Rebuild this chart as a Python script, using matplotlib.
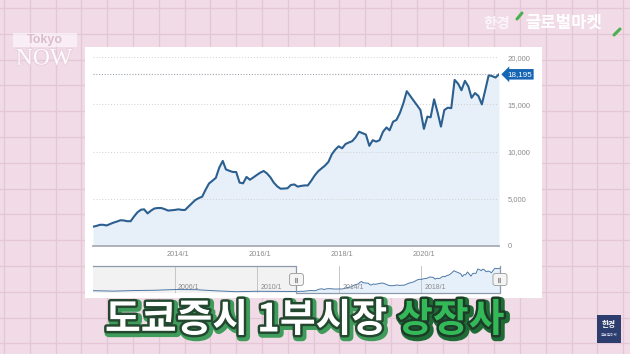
import numpy as np
import pandas as pd
import matplotlib
matplotlib.use("Agg")
import matplotlib.pyplot as plt
import matplotlib.dates as mdates
import matplotlib.patheffects as pe
import matplotlib.transforms as mtransforms
from matplotlib.patches import Rectangle
from matplotlib.ticker import FuncFormatter

plt.rcParams['font.family'] = ['Liberation Sans', 'DejaVu Sans']
KR = ['Noto Sans CJK KR', 'DejaVu Sans']

# monthly values, Dec 2011 .. Nov 2021
start_month = "2011-12-01"
values = [2020, 2100, 2220, 2220, 2150, 2300, 2450, 2560, 2700, 2680, 2600, 2600,
          3100, 3550, 3820, 3860, 3430, 3720, 3950, 4000, 4000, 3880, 3730, 3760,
          3800, 3860, 3800, 3790, 4150, 4500, 4850, 5050, 5200, 5950, 6600, 6900,
          7200, 8300, 9000, 8100, 7950, 7830, 7820, 6700, 6620, 7300, 7000, 7250,
          7500, 7750, 7930, 7680, 7260, 6700, 6300, 6050, 6070, 6100, 6450, 6500,
          6270, 6350, 6400, 6400, 6900, 7450, 7900, 8200, 8500, 8900, 9700, 10200,
          10550, 10340, 10800, 10950, 11100, 11500, 12100, 11950, 11800, 10600, 11200, 11050,
          11200, 12100, 12550, 12250, 13170, 13350, 14100, 15100, 16400, 15900, 15400, 14900,
          14400, 12400, 13700, 13630, 15540, 14200, 12640, 14400, 14650, 14600, 17600, 17200,
          16500, 17500, 16900, 15700, 16200, 15900, 15000, 16500, 18100, 18000, 17850, 18195]

# earlier history shown only in the navigator
nav_start = "2002-01-01"
hist_dates = ["2002-01-01", "2003-01-01", "2004-01-01", "2005-01-01", "2006-01-01",
              "2007-01-01", "2008-01-01", "2009-01-01", "2010-01-01", "2011-01-01"]
hist_values = [2600, 2300, 2700, 2900, 3400, 3300, 2500, 1900, 2200, 2100]

y_ticks = [0, 5000, 10000, 15000, 20000]
x_ticks = ["2014-01-01", "2016-01-01", "2018-01-01", "2020-01-01"]
nav_ticks = ["2006-01-01", "2010-01-01", "2014-01-01", "2018-01-01"]

title_main = "도쿄증시 1부시장"
title_hl = "상장사"

W, H = 630, 354
PINK = '#f0dbe6'
PINK_GRID = '#e4c6d6'


def px_rect(x0, y0, x1, y1):
    return [x0 / W, 1 - y1 / H, (x1 - x0) / W, (y1 - y0) / H]


fig = plt.figure(figsize=(6.3, 3.54), dpi=100)

# background: pink grid paper + white card
bg = fig.add_axes([0, 0, 1, 1])
bg.set_xlim(0, W)
bg.set_ylim(H, 0)
bg.axis('off')
bg.add_patch(Rectangle((0, 0), W, H, fc=PINK, ec='none', zorder=0))
for gx in np.arange(4, W, 25.8):
    bg.axvline(gx, color=PINK_GRID, lw=0.9, zorder=0.5)
for gy in np.arange(8, H, 25.8):
    bg.axhline(gy, color=PINK_GRID, lw=0.9, zorder=0.5)
bg.add_patch(Rectangle((85, 47), 457, 251, fc='white', ec='none', zorder=1))

# logos
bg.add_patch(Rectangle((13, 33), 64, 14, fc='white', ec='none', alpha=0.55, zorder=2))
bg.text(45, 40, "Tokyo", fontsize=9, fontweight='bold', color='#dcbccc',
        ha='center', va='center', zorder=3)
bg.text(44, 59, "NOW", fontsize=17, family='Liberation Serif', color='white',
        alpha=0.9, ha='center', va='center', zorder=3,
        path_effects=[pe.withStroke(linewidth=1.5, foreground='#e8cfdc')])
bg.text(483, 23, "한경", fontsize=10.5, family=KR, fontweight='bold',
        color='white', alpha=0.75, ha='left', va='center', zorder=3)
bg.text(525, 23, "글로벌마켓", fontsize=12, family=KR, fontweight='bold',
        color='white', ha='left', va='center', zorder=3)
bg.plot([517, 522], [19, 13], color='#4caf50', lw=2.2, solid_capstyle='round', zorder=3)
bg.plot([614, 620], [35, 29], color='#4caf50', lw=2.2, solid_capstyle='round', zorder=3)
bg.add_patch(Rectangle((597, 315), 24, 28, fc='#2d3e6e', ec='none', zorder=3))
bg.text(609, 325, "한경", fontsize=5.5, family=KR, fontweight='bold',
        color='white', ha='center', va='center', zorder=4)
bg.text(609, 335, "글로벌마켓", fontsize=2.6, family=KR,
        color='#c9d2ea', ha='center', va='center', zorder=4)

# main chart
dates = pd.date_range(start_month, periods=len(values), freq='MS')
last = values[-1]

ax = fig.add_axes(px_rect(93, 57.3, 499, 245.7))
ax.set_facecolor('none')
ax.fill_between(dates, values, 0, color='#e7f0f9', lw=0)
ax.plot(dates, values, color='#2b5f8f', lw=1.5)
ax.set_xlim(dates[0], dates[-1])
ax.set_ylim(0, 20000)

ax.set_yticks(y_ticks)
ax.yaxis.tick_right()
ax.yaxis.set_major_formatter(FuncFormatter(lambda v, p: f"{int(v):,}"))
ax.tick_params(axis='y', length=0, pad=6, labelsize=5.5, labelcolor='#8c8c8c')

ax.set_xticks(pd.to_datetime(x_ticks))
ax.xaxis.set_major_formatter(FuncFormatter(
    lambda v, p: f"{mdates.num2date(v).year}/{mdates.num2date(v).month}"))
ax.tick_params(axis='x', length=0, pad=4, labelsize=5.3, labelcolor='#8c8c8c')

ax.grid(axis='y', ls=(0, (1, 2)), color='#d0d0d0', lw=0.7)
for s in ['top', 'left', 'right']:
    ax.spines[s].set_visible(False)
ax.spines['bottom'].set_color('#a7adb4')
ax.spines['bottom'].set_linewidth(1.3)

ax.axhline(last, color='#9ea7b2', lw=0.8, ls=(0, (1, 1.5)))
ax.text(1.02, last, f"{last:,}", transform=ax.get_yaxis_transform(),
        ha='left', va='center', fontsize=5.8, color='white',
        bbox=dict(boxstyle='larrow,pad=0.22', fc='#1766b5', ec='none'))

# navigator
nav = fig.add_axes(px_rect(93, 266, 500, 293))
nav.set_axis_off()
all_dates = list(pd.to_datetime(hist_dates)) + list(dates)
all_vals = hist_values + values
x0 = pd.Timestamp(nav_start)
nav.set_xlim(x0, dates[-1])
nav.set_ylim(1000, 19700)
nav.axvspan(x0, dates[0], color='#f2f2f2', lw=0)
nav.fill_between(dates, values, 1000, color='#e6f0fa', lw=0)
xt = nav.get_xaxis_transform()
lbl_tr = mtransforms.offset_copy(xt, fig=fig, x=3, y=0, units='dots')
for t in pd.to_datetime(nav_ticks):
    nav.axvline(t, color='#c6c6c6', lw=0.7)
    nav.text(t, 0.22, f"{t.year}/{t.month}", transform=lbl_tr,
             fontsize=5, color='#8c8c8c', ha='left', va='center')
nav.plot(all_dates, all_vals, color='#4b77a6', lw=0.7)
nav.plot([x0, dates[0], dates[0], dates[-1], dates[-1]], [1, 1, 0, 0, 1],
         transform=xt, color='#8d9aab', lw=0.9, clip_on=False)
for hx in [dates[0], dates[-1]]:
    nav.text(hx, 0.5, "≡", rotation=90, transform=xt, ha='center', va='center',
             fontsize=6, color='#777777', family='DejaVu Sans',
             bbox=dict(boxstyle='round,pad=0.3', fc='#f4f4f4', ec='#999999', lw=0.6))

# subtitle, second part placed right after the first
fx = lambda x: x / W
fy = lambda y: 1 - y / H
t1 = fig.text(fx(105), fy(320), title_main, fontsize=28, family=KR, fontweight='bold',
              color='white', ha='left', va='center',
              path_effects=[pe.Stroke(linewidth=6, foreground='#3f9c5a', offset=(1.5, -1.5)),
                            pe.Stroke(linewidth=3.5, foreground='#23472f'),
                            pe.Normal()])
fig.canvas.draw()
bb = t1.get_window_extent()
fig.text((bb.x1 + 10) / W, fy(320), title_hl, fontsize=28, family=KR, fontweight='bold',
         color='#34b958', ha='left', va='center',
         path_effects=[pe.Stroke(linewidth=6, foreground='#1f6b36', offset=(1.5, -1.5)),
                       pe.Stroke(linewidth=3.5, foreground='#1d3b28'),
                       pe.Normal()])

fig.savefig("out.png", dpi=100)
